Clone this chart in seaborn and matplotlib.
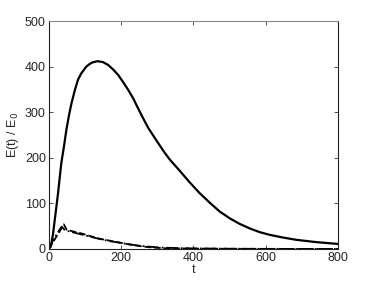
import numpy as np
import pandas as pd
import matplotlib
matplotlib.use('Agg')
import matplotlib.pyplot as plt
import seaborn as sns

# datos
t_solida = [0, 6, 12, 17, 26, 35, 43, 49, 56, 63, 72, 81, 90, 104, 112, 120, 135, 150, 164, 178,
            192, 206, 220, 234, 247, 261, 275, 298, 320, 335, 363, 390, 418, 446, 473, 501,
            528, 556, 583, 611, 648, 685, 740, 800]
e_solida = [0, 5, 32, 64, 122, 188, 228, 261, 292, 319, 347, 371, 385, 400, 405, 409, 412, 410,
            404, 394, 382, 366, 349, 330, 309, 287, 266, 238, 212, 196, 171, 146, 122, 101, 82,
            67, 55, 45, 37, 31, 25, 20, 15, 11]

t_guion = [0, 10, 20, 30, 42, 50, 70, 91, 137, 183, 229, 275, 321, 400, 500, 600, 700, 800]
e_guion = [0, 12, 25, 38, 54, 42, 38, 34, 23, 16, 9, 4, 1.5, 0.8, 0.4, 0.2, 0.1, 0]

t_punto = [0, 10, 20, 30, 36, 45, 60, 90, 130, 170, 210, 250, 300, 350, 400, 500, 600, 700, 800]
e_punto = [0, 15, 29, 42, 49, 41, 38, 32, 24, 17, 12, 7, 3.5, 2, 1.2, 0.5, 0.2, 0.1, 0]

sns.set_style('ticks')
plt.rcParams['font.family'] = ['Liberation Sans', 'DejaVu Sans']
plt.rcParams['font.size'] = 9
plt.rcParams['xtick.direction'] = 'in'
plt.rcParams['ytick.direction'] = 'in'

fig = plt.figure(figsize=(3.74, 2.81), dpi=100)
ax = fig.add_axes([0.13, 0.114, 0.774, 0.811])

sns.lineplot(x=t_solida, y=e_solida, ax=ax, color='black', linewidth=1.6)
sns.lineplot(x=t_guion, y=e_guion, ax=ax, color='black', linewidth=1.3, linestyle='--')
sns.lineplot(x=t_punto, y=e_punto, ax=ax, color='black', linewidth=1.3, linestyle='-.')

ax.set_xlim(0, 800)
ax.set_ylim(0, 500)
ax.set_xticks([0, 200, 400, 600, 800])
ax.set_yticks([0, 100, 200, 300, 400, 500])
ax.tick_params(top=True, right=True, length=3, width=0.6, pad=2, labelsize=9, color='#333333')
for s in ax.spines.values():
    s.set_linewidth(0.8)
    s.set_visible(True)
    s.set_color('#222222')
ax.spines['top'].set_color('#888888')

ax.set_xlabel('t', labelpad=0, fontsize=9)
ax.set_ylabel('E(t) / E$_0$', labelpad=3, fontsize=9)

fig.savefig('out.png', dpi=100)
